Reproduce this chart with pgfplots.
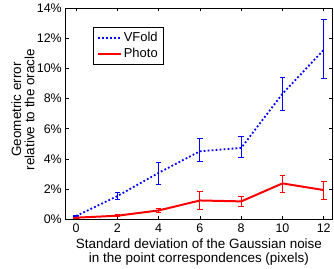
\documentclass[border=0pt]{standalone}
\usepackage{fontspec}
\setmainfont{Liberation Sans}
\usepackage{pgfplots}
\usepackage{pgfplotstable}
\pgfplotsset{compat=1.18}
\pgfplotstableread{
x y ep em
0 0.22 0.05 0.05
2 1.54 0.22 0.24
4 3.08 0.70 0.77
6 4.51 0.82 0.70
8 4.73 0.73 0.66
10 8.32 1.10 1.12
12 11.23 2.03 1.87
}\vfold
\pgfplotstableread{
x y ep em
0 0.11 0.03 0.03
2 0.24 0.08 0.08
4 0.59 0.16 0.15
6 1.25 0.58 0.63
8 1.19 0.31 0.31
10 2.38 0.55 0.58
12 1.94 0.57 0.64
}\photo
\begin{document}
\begin{tikzpicture}
\begin{axis}[
  name=ax,
  scale only axis, width=267pt, height=212pt,
  xmin=-0.5, xmax=12.4, ymin=0, ymax=14,
  xtick={0,2,...,12}, ytick={0,2,...,14},
  yticklabel={\pgfmathprintnumber{\tick}\%},
  /pgf/number format/assume math mode=true,
  tick align=inside, major tick length=3.5pt,
  axis line style={line width=0.7pt},
  tick style={black, line width=0.6pt},
  xlabel={Standard deviation of the Gaussian noise\\in the point correspondences (pixels)},
  xlabel style={align=center, at={(axis description cs:0.5,0)}, anchor=center, yshift=-33pt},
  ylabel={Geometric error\\relative to the oracle},
  ylabel style={align=center, at={(axis description cs:-0.161,0.52)}, anchor=center},
  ticklabel style={font=\fontsize{12.5}{13}\selectfont},
  xticklabel style={yshift=-1pt},
  yticklabel style={xshift=-0.5pt},
  label style={font=\fontsize{13.5}{13.5}\selectfont},
  legend style={at={(0.101,0.91)}, anchor=north west, draw=black, line width=0.5pt,
    font=\fontsize{13}{13}\selectfont, row sep=1.5pt, inner xsep=4pt, inner ysep=3pt},
  legend image code/.code={\draw[#1] (0pt,0pt) -- (23pt,0pt);},
  legend cell align=left,
]
\addplot[blue, line width=1.8pt, dash pattern=on 1.8pt off 2.2pt,
  error bars/.cd, y dir=both, y explicit,
  error bar style={solid, line width=1pt},
  error mark options={rotate=90, mark size=2.8pt, line width=1pt, solid}]
  table[x=x, y=y, y error plus=ep, y error minus=em] {\vfold};
\addlegendentry{VFold}
\addplot[red, line width=2pt,
  error bars/.cd, y dir=both, y explicit,
  error bar style={solid, line width=1pt},
  error mark options={rotate=90, mark size=2.8pt, line width=1pt, solid}]
  table[x=x, y=y, y error plus=ep, y error minus=em] {\photo};
\addlegendentry{Photo}
\end{axis}
\path[use as bounding box] ([xshift=-66pt,yshift=-48pt]ax.south west) rectangle ([xshift=1pt,yshift=8pt]ax.north east);
\end{tikzpicture}
\end{document}
